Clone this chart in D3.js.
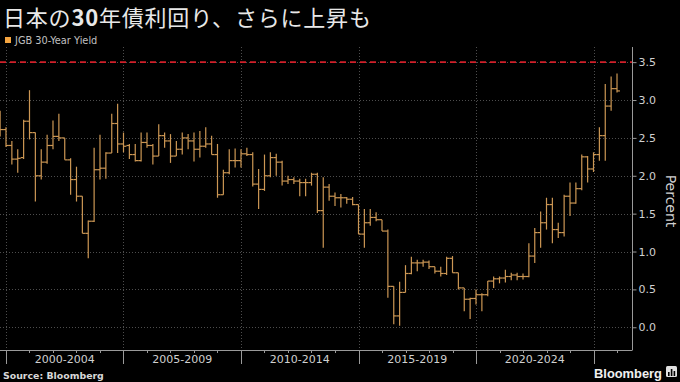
<!DOCTYPE html>
<html><head><meta charset="utf-8">
<script src="https://cdn.jsdelivr.net/npm/d3@7"></script>
<style>html,body{margin:0;padding:0;background:#000;} svg{display:block}</style>
</head><body>
<svg id="chart" width="680" height="382"></svg>
<script>
// ---- data (quarterly OHLC, JGB 30-Year Yield, %) ----
const quarters = [
 "1999Q3","1999Q4",
 "2000Q1","2000Q2","2000Q3","2000Q4","2001Q1","2001Q2","2001Q3","2001Q4",
 "2002Q1","2002Q2","2002Q3","2002Q4","2003Q1","2003Q2","2003Q3","2003Q4",
 "2004Q1","2004Q2","2004Q3","2004Q4","2005Q1","2005Q2","2005Q3","2005Q4",
 "2006Q1","2006Q2","2006Q3","2006Q4","2007Q1","2007Q2","2007Q3","2007Q4",
 "2008Q1","2008Q2","2008Q3","2008Q4","2009Q1","2009Q2","2009Q3","2009Q4",
 "2010Q1","2010Q2","2010Q3","2010Q4","2011Q1","2011Q2","2011Q3","2011Q4",
 "2012Q1","2012Q2","2012Q3","2012Q4","2013Q1","2013Q2","2013Q3","2013Q4",
 "2014Q1","2014Q2","2014Q3","2014Q4","2015Q1","2015Q2","2015Q3","2015Q4",
 "2016Q1","2016Q2","2016Q3","2016Q4","2017Q1","2017Q2","2017Q3","2017Q4",
 "2018Q1","2018Q2","2018Q3","2018Q4","2019Q1","2019Q2","2019Q3","2019Q4",
 "2020Q1","2020Q2","2020Q3","2020Q4","2021Q1","2021Q2","2021Q3","2021Q4",
 "2022Q1","2022Q2","2022Q3","2022Q4","2023Q1","2023Q2","2023Q3","2023Q4",
 "2024Q1","2024Q2","2024Q3","2024Q4","2025Q1","2025Q2","2025Q3","2025Q4"
];
const openV = [
 2.80,2.61, 2.40,2.22,2.24,2.72,2.57,2.00,2.18,2.40, 2.52,2.50,2.21,1.95,1.73,1.24,1.40,2.08,
 2.10,2.30,2.69,2.42,2.40,2.28,2.20,2.44, 2.40,2.26,2.53,2.46,2.26,2.35,2.50,2.46,
 2.35,2.39,2.42,2.28,1.75,2.04,2.20,2.20, 2.29,2.28,1.89,1.82,2.00,2.24,2.18,1.93,
 1.95,1.93,1.91,1.91,2.02,1.54,1.85,1.73, 1.71,1.71,1.69,1.62,1.23,1.38,1.45,1.42,
 1.27,0.54,0.15,0.46,0.71,0.85,0.85,0.86, 0.80,0.74,0.71,0.91,0.72,0.52,0.37,0.38,
 0.43,0.43,0.61,0.64,0.65,0.67,0.69,0.67, 0.67,0.94,1.25,1.38,1.62,1.29,1.25,1.73,
 1.64,1.83,2.25,2.09,2.28,2.53,2.92,3.15
];
const highV = [
 2.86,2.64, 2.46,2.35,2.74,3.13,2.57,2.35,2.54,2.73, 2.82,2.50,2.23,2.12,1.73,1.41,2.37,2.54,
 2.31,2.82,2.95,2.57,2.42,2.42,2.57,2.57, 2.42,2.68,2.57,2.55,2.46,2.57,2.55,2.57,
 2.59,2.64,2.53,2.42,2.08,2.35,2.36,2.35, 2.37,2.31,2.09,2.28,2.31,2.29,2.20,2.00,
 1.98,1.96,1.96,2.04,2.04,1.98,1.89,1.78, 1.76,1.72,1.72,1.62,1.56,1.56,1.52,1.42,
 1.29,0.54,0.60,0.82,0.93,0.89,0.89,0.88, 0.80,0.80,0.93,0.94,0.72,0.52,0.39,0.50,
 0.45,0.61,0.67,0.67,0.76,0.72,0.72,0.71, 1.11,1.31,1.53,1.71,1.71,1.38,1.75,1.91,
 1.91,2.28,2.26,2.31,2.64,3.21,3.31,3.35
];
const lowV = [
 2.52,2.38, 2.15,2.04,2.22,2.48,1.66,1.95,2.16,2.35, 2.46,2.21,1.75,1.66,1.24,0.91,1.39,1.95,
 1.96,2.30,2.30,2.31,2.22,2.19,2.19,2.37, 2.15,2.26,2.37,2.17,2.26,2.28,2.35,2.19,
 2.24,2.37,2.28,1.71,1.75,2.02,2.11,2.11, 2.26,1.86,1.56,1.80,1.98,2.00,1.87,1.89,
 1.89,1.73,1.73,1.87,1.51,1.05,1.67,1.60, 1.58,1.63,1.61,1.23,1.05,1.34,1.40,1.27,
 0.39,0.04,0.02,0.46,0.70,0.74,0.80,0.77, 0.71,0.67,0.69,0.72,0.50,0.21,0.11,0.30,
 0.21,0.41,0.52,0.58,0.59,0.62,0.62,0.63, 0.66,0.85,1.05,1.29,1.11,1.18,1.20,1.47,
 1.63,1.81,1.91,2.05,2.20,2.20,2.86,3.10
];
const closeV = [
 2.61,2.40, 2.22,2.23,2.72,2.57,2.00,2.18,2.40,2.52, 2.50,2.21,1.95,1.73,1.24,1.40,2.08,2.10,
 2.30,2.69,2.42,2.39,2.28,2.20,2.44,2.40, 2.26,2.53,2.46,2.26,2.35,2.50,2.46,2.35,
 2.39,2.42,2.28,1.75,2.04,2.20,2.20,2.29, 2.28,1.89,1.82,2.00,2.24,2.18,1.93,1.95,
 1.93,1.91,1.91,2.02,1.54,1.85,1.73,1.71, 1.71,1.69,1.62,1.23,1.38,1.45,1.42,1.27,
 0.54,0.15,0.46,0.71,0.85,0.85,0.86,0.80, 0.74,0.71,0.91,0.72,0.52,0.37,0.38,0.43,
 0.43,0.61,0.64,0.65,0.67,0.69,0.67,0.67, 0.94,1.25,1.38,1.62,1.29,1.25,1.73,1.64,
 1.83,2.25,2.09,2.28,2.53,2.92,3.15,3.12
];
const yTicks = [0.0, 0.5, 1.0, 1.5, 2.0, 2.5, 3.0, 3.5];
const periodStarts = [2000, 2005, 2010, 2015, 2020, 2025];
const periodLabels = ["2000-2004", "2005-2009", "2010-2014", "2015-2019", "2020-2024"];
const yearTicks = [2000,2001,2002,2003,2004,2005,2006,2007,2008,2009,2010,2011,2012,2013,2014,2015,2016,2017,2018,2019,2020,2021,2022,2023,2024,2025,2026];
const refLevel = 3.5;
const titleParts = [["日本の", false], ["30", true], ["年債利回り、さらに上昇も", false]];
const legendLabel = "JGB 30-Year Yield";
const axisTitle = "Percent";
const sourceText = "Source: Bloomberg";

// ---- layout ----
const W = 680, H = 382;
const plot = {left: 0, right: 632, top: 47, bottom: 350};
const svg = d3.select("#chart");
svg.append("rect").attr("width", W).attr("height", H).attr("fill", "#000");

// quarter -> fractional year at quarter end
const qEnd = q => +q.slice(0,4) + (+q.slice(5)) * 0.25;
const data = quarters.map((q,i) => ({t: qEnd(q), o: openV[i], h: highV[i], l: lowV[i], c: closeV[i]}));

const x = d3.scaleLinear().domain([1999.745, 2026.638]).range([plot.left, plot.right]);
const y = d3.scaleLinear().domain([-0.3, 3.7]).range([plot.bottom, plot.top]);

const FONT = "'DejaVu Sans', sans-serif";

// horizontal grid
svg.append("g").selectAll("line").data(yTicks).join("line")
  .attr("x1", plot.left).attr("x2", plot.right)
  .attr("y1", d => Math.round(y(d)) + 0.5).attr("y2", d => Math.round(y(d)) + 0.5)
  .attr("stroke", "#4d4d4d").attr("stroke-width", 1).attr("stroke-dasharray", "1,2");

// vertical grid at period boundaries
svg.append("g").selectAll("line").data(periodStarts).join("line")
  .attr("x1", d => Math.round(x(d)) + 0.5).attr("x2", d => Math.round(x(d)) + 0.5)
  .attr("y1", plot.top).attr("y2", plot.bottom)
  .attr("stroke", "#4d4d4d").attr("stroke-width", 1).attr("stroke-dasharray", "1,2");

// reference line
svg.append("line")
  .attr("x1", plot.left).attr("x2", plot.right)
  .attr("y1", y(refLevel)).attr("y2", y(refLevel))
  .attr("stroke", "#d0202a").attr("stroke-width", 1.6).attr("stroke-dasharray", "6,4");

// OHLC bars
const step = x(2000.25) - x(2000);
const half = step / 2;
svg.append("clipPath").attr("id", "clip").append("rect")
  .attr("x", plot.left).attr("y", plot.top - 5).attr("width", plot.right - plot.left).attr("height", plot.bottom - plot.top + 5);
const gb = svg.append("g").attr("clip-path", "url(#clip)")
  .attr("stroke", "#cc9754").attr("stroke-width", 1.2).attr("fill", "none");
const bars = gb.selectAll("g").data(data).join("g");
bars.append("line")
  .attr("x1", d => x(d.t)).attr("x2", d => x(d.t))
  .attr("y1", d => y(d.h)).attr("y2", d => y(d.l));
bars.append("line")
  .attr("x1", d => x(d.t) - half).attr("x2", d => x(d.t))
  .attr("y1", d => y(d.o)).attr("y2", d => y(d.o));
bars.append("line")
  .attr("x1", d => x(d.t)).attr("x2", d => x(d.t) + half)
  .attr("y1", d => y(d.c)).attr("y2", d => y(d.c));

// right axis
const yAxis = d3.axisRight(y).tickValues(yTicks).tickFormat(d3.format(".1f")).tickSize(4).tickPadding(2);
const ga = svg.append("g").attr("transform", `translate(${plot.right + 0.5},0)`).call(yAxis);
ga.select(".domain").attr("stroke", "#9a9a9a").attr("d", `M0,${plot.top}V${plot.bottom}`);
ga.selectAll(".tick line").attr("stroke", "#9a9a9a");
ga.selectAll(".tick text").attr("fill", "#d0d0d0").attr("font-family", FONT).attr("font-size", 11);

svg.append("text").attr("transform", `translate(670,201) rotate(90)`)
  .attr("text-anchor", "middle").attr("dominant-baseline", "middle")
  .attr("fill", "#d0d0d0").attr("font-family", FONT).attr("font-size", 14).text(axisTitle);

// bottom axis
svg.append("line").attr("x1", plot.left).attr("x2", plot.right + 0.5)
  .attr("y1", plot.bottom + 0.5).attr("y2", plot.bottom + 0.5).attr("stroke", "#9a9a9a");
svg.append("g").selectAll("line").data(yearTicks.filter(d => x(d) <= plot.right)).join("line")
  .attr("x1", d => Math.round(x(d)) + 0.5).attr("x2", d => Math.round(x(d)) + 0.5)
  .attr("y1", plot.bottom).attr("y2", plot.bottom + 3).attr("stroke", "#9a9a9a");
svg.append("g").selectAll("line").data(periodStarts).join("line")
  .attr("x1", d => Math.round(x(d)) + 0.5).attr("x2", d => Math.round(x(d)) + 0.5)
  .attr("y1", plot.bottom).attr("y2", plot.bottom + 14).attr("stroke", "#9a9a9a");
svg.append("g").selectAll("text").data(periodLabels).join("text")
  .attr("x", (d,i) => (x(periodStarts[i]) + x(periodStarts[i+1])) / 2)
  .attr("y", 359.5).attr("text-anchor", "middle").attr("dominant-baseline", "middle")
  .attr("fill", "#d0d0d0").attr("font-family", FONT).attr("font-size", 11).text(d => d);

// title
const tt = svg.append("text").attr("x", 3).attr("y", 25.6)
  .attr("fill", "#e8e8e8").attr("font-family", "'Noto Sans CJK JP', sans-serif")
  .attr("font-size", 22).attr("letter-spacing", 0.8);
titleParts.forEach(([s, b]) => tt.append("tspan").attr("font-weight", b ? 700 : 400).text(s));

// legend
svg.append("rect").attr("x", 5).attr("y", 37).attr("width", 6).attr("height", 6).attr("fill", "#f5a540");
svg.append("text").attr("x", 15).attr("y", 44).attr("fill", "#c0c0c0")
  .attr("font-family", FONT).attr("font-size", 9.8).text(legendLabel);

// footer
svg.append("text").attr("x", 3).attr("y", 379).attr("fill", "#d8d8d8")
  .attr("font-family", FONT).attr("font-weight", 700).attr("font-size", 9.4).text(sourceText);
svg.append("text").attr("x", 594).attr("y", 377.5).attr("fill", "#f0f0f0")
  .attr("font-family", "'Liberation Sans', Arial, sans-serif").attr("font-weight", 700)
  .attr("font-size", 13.5).attr("textLength", 68).attr("lengthAdjust", "spacingAndGlyphs").text("Bloomberg");
const icon = svg.append("g").attr("transform", "translate(666,366)");
icon.append("rect").attr("width", 11).attr("height", 11).attr("rx", 1.5).attr("fill", "#e0e0e0");
[[2,6,1.6,4],[4.8,3,1.6,7],[7.6,5,1.6,5]].forEach(([bx,by,bw,bh]) =>
  icon.append("rect").attr("x", bx).attr("y", by).attr("width", bw).attr("height", bh).attr("fill", "#000"));
</script>
</body></html>
